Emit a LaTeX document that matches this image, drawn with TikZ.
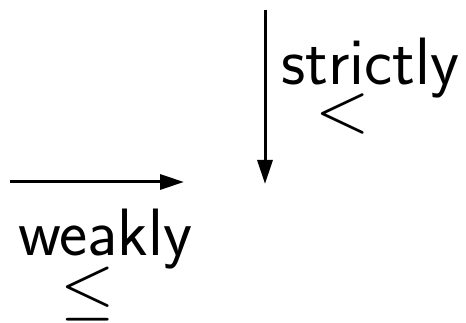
\documentclass[tikz,border=0pt]{standalone}
\usepackage{graphicx}
\usetikzlibrary{arrows.meta}
\begin{document}
\begin{tikzpicture}[x=1pt,y=-1pt,
  conn/.style={line width=3pt,-{Triangle[length=24pt,width=15pt]}},
  lbl/.style={inner sep=0pt,font=\fontsize{67}{69}\selectfont\sffamily},
  sym/.style={inner sep=0pt,font=\fontsize{10}{12}\selectfont}]
\useasboundingbox (0,0) rectangle (466,323);
% vertical connector with its label
\coordinate (vtop) at (265,10);
\coordinate (vend) at (265,184);
\draw[conn] (vtop) -- (vend);
\node[lbl,anchor=base west] (strictly) at (281,85) {strictly};
\node[sym] (lt) at (343,114) {\scalebox{7}{$<$}};
% horizontal connector with its label
\coordinate (hstart) at (10,182);
\coordinate (hend) at (184,182);
\draw[conn] (hstart) -- (hend);
\node[lbl,anchor=base west] (weakly) at (18,255) {weakly};
\node[sym] (le) at (88,294) {\scalebox{7}{$\leq$}};
\end{tikzpicture}
\end{document}
